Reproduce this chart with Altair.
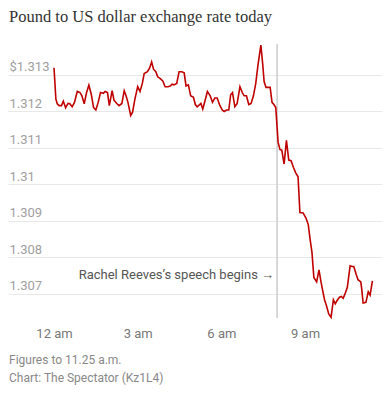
import altair as alt
import pandas as pd

# minutes after midnight
times = [0,4,7,11,16,20,25,30,34,39,
         44,50,56,60,65,70,75,80,85,90,
         95,100,106,110,115,119,125,129,135,140,
         146,151,155,159,165,169,174,180,185,190,
         194,201,206,210,214,219,223,228,234,239,
         245,250,254,258,264,269,275,280,284,289,
         294,300,304,308,316,320,325,330,336,341,
         346,351,357,362,366,371,376,380,384,389,
         394,400,405,409,414,419,424,429,434,439,
         445,449,452,456,465,469,473,477,479,482,
         486,490,495,500,505,510,515,520,525,529,
         536,542,547,551,555,559,565,570,574,578,
         582,586,591,596,601,605,609,614,618,622,
         626,631,637,641,645,650,654,660,662,665,
         671,676,680,685]

rates = [1.31319,1.31233,1.31220,1.31215,1.31215,1.31227,1.31209,1.31221,1.31220,1.31212,
         1.31224,1.31254,1.31251,1.31242,1.31220,1.31251,1.31271,1.31247,1.31210,1.31203,
         1.31224,1.31251,1.31249,1.31254,1.31251,1.31215,1.31256,1.31230,1.31221,1.31215,
         1.31221,1.31256,1.31242,1.31224,1.31188,1.31197,1.31233,1.31267,1.31254,1.31276,
         1.31303,1.31308,1.31319,1.31335,1.31315,1.31308,1.31294,1.31290,1.31283,1.31267,
         1.31267,1.31269,1.31274,1.31272,1.31276,1.31308,1.31308,1.31305,1.31269,1.31272,
         1.31242,1.31238,1.31218,1.31212,1.31221,1.31206,1.31229,1.31254,1.31242,1.31224,
         1.31236,1.31236,1.31215,1.31203,1.31199,1.31203,1.31203,1.31245,1.31251,1.31212,
         1.31221,1.31267,1.31251,1.31242,1.31242,1.31218,1.31221,1.31242,1.31276,1.31328,
         1.31381,1.31328,1.31281,1.31265,1.31265,1.31224,1.31218,1.31210,1.31174,1.31115,
         1.31095,1.31093,1.31055,1.31120,1.31066,1.31064,1.31046,1.31031,1.31020,1.30922,
         1.30921,1.30907,1.30889,1.30848,1.30812,1.30744,1.30732,1.30765,1.30735,1.30708,
         1.30683,1.30667,1.30644,1.30635,1.30683,1.30672,1.30681,1.30690,1.30692,1.30687,
         1.30699,1.30717,1.30776,1.30774,1.30774,1.30753,1.30738,1.30732,1.30712,1.30674,
         1.30676,1.30705,1.30696,1.30735]

y_ticks = [1.307, 1.308, 1.309, 1.31, 1.311, 1.312, 1.313]
x_ticks = [0, 3, 6, 9]
speech_hour = 8.0
speech_label = "Rachel Reeves\u2019s speech begins \u2192"
title_text = "Pound to US dollar exchange rate today"
note_1 = "Figures to 11.25 a.m."
note_2 = "Chart: The Spectator (Kz1L4)"

df = pd.DataFrame({"hour": [t / 60 for t in times], "rate": rates})

xscale = alt.Scale(domain=[-1.65, 11.76], nice=False, zero=False)
yscale = alt.Scale(domain=[1.30633, 1.31384], nice=False, zero=False)

xaxis = alt.Axis(values=x_ticks, grid=False, domain=False, ticks=False, tickSize=0,
                 labelPadding=15, labelBaseline="middle", labelFontSize=13,
                 labelColor="#777777", labelFont="Roboto", title=None,
                 labelExpr="datum.value == 0 ? '12 am' : datum.value + ' am'")
yaxis = alt.Axis(values=y_ticks, grid=True, gridColor="#e8e8e8", gridWidth=1,
                 domain=False, ticks=False, tickSize=0, labelAlign="left",
                 labelPadding=-1, labelBaseline="alphabetic", labelOffset=-4,
                 labelFontSize=13, labelColor="#a0a0a0", labelFont="Roboto", title=None,
                 labelExpr="(datum.value > 1.31295 ? '$' : '') + format(datum.value, '.3~f')")

line = alt.Chart(df).mark_line(color="#c00000", strokeWidth=1.6).encode(
    x=alt.X("hour:Q", scale=xscale, axis=xaxis),
    y=alt.Y("rate:Q", scale=yscale, axis=yaxis),
)

rule = alt.Chart(pd.DataFrame({"hour": [speech_hour]})).mark_rule(
    color="#cccccc", strokeWidth=1.5).encode(
    x=alt.X("hour:Q", scale=xscale),
    y=alt.value(0), y2=alt.value(274),
)

annot = alt.Chart(pd.DataFrame({"hour": [speech_hour], "rate": [1.30750],
                                "t": [speech_label]})).mark_text(
    align="right", baseline="middle", dx=-3, fontSize=13, font="Roboto",
    color="#555555").encode(
    x=alt.X("hour:Q", scale=xscale),
    y=alt.Y("rate:Q", scale=yscale),
    text="t:N",
)

title = alt.Chart(pd.DataFrame({"t": [title_text]})).mark_text(
    align="left", baseline="middle", fontSize=16.5, font="Liberation Serif",
    color="#333333").encode(x=alt.value(1), y=alt.value(-27.5), text="t:N")

foot1 = alt.Chart(pd.DataFrame({"t": [note_1]})).mark_text(
    align="left", baseline="middle", fontSize=12, font="Roboto",
    color="#888888").encode(x=alt.value(1), y=alt.value(316), text="t:N")

foot2 = alt.Chart(pd.DataFrame({"t": [note_2]})).mark_text(
    align="left", baseline="middle", fontSize=12, font="Roboto",
    color="#888888").encode(x=alt.value(1), y=alt.value(334), text="t:N")

chart = alt.layer(rule, line, annot, title, foot1, foot2).properties(
    width=374, height=274,
    autosize=alt.AutoSizeParams(type="none"),
    padding={"left": 0, "top": 36, "right": 0, "bottom": 68},
    background="white",
).configure_view(stroke=None)

chart.save("out.html", embed_options={"renderer": "svg", "actions": False})
